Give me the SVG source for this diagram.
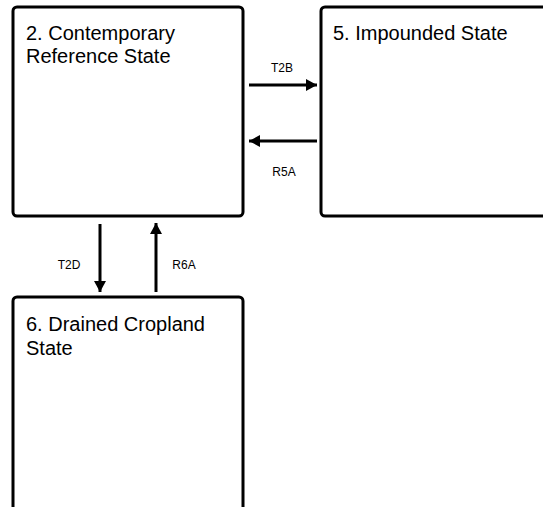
<svg xmlns="http://www.w3.org/2000/svg" width="543" height="507" viewBox="0 0 543 507">
<style>
.box{fill:#ffffff;stroke:#000000;stroke-width:3}
.title{font-family:"Liberation Sans",Arial,sans-serif;font-size:20px;fill:#000000}
.lbl{font-family:"Liberation Sans",Arial,sans-serif;font-size:12px;fill:#000000;text-anchor:middle}
.edge{stroke:#000000;stroke-width:3;fill:none;marker-end:url(#ah)}
</style>
<defs>
<marker id="ah" markerUnits="userSpaceOnUse" markerWidth="12" markerHeight="12" refX="11" refY="6" orient="auto">
<path d="M0,0 L11,6 L0,12 Z" fill="#000000"/>
</marker>
</defs>
<rect width="543" height="507" fill="#ffffff"/>
<g id="node-2">
<rect class="box" x="13" y="7" width="230" height="209" rx="4"/>
<text class="title" x="26" y="40">2. Contemporary</text>
<text class="title" x="26" y="63">Reference State</text>
</g>
<g id="node-5">
<rect class="box" x="321" y="7" width="240" height="209" rx="4"/>
<text class="title" x="333" y="40">5. Impounded State</text>
</g>
<g id="node-6">
<rect class="box" x="13" y="297" width="230" height="240" rx="4"/>
<text class="title" x="26" y="331">6. Drained Cropland</text>
<text class="title" x="26" y="355">State</text>
</g>
<g id="connectors">
<line class="edge" x1="249" y1="85" x2="317" y2="85"/>
<line class="edge" x1="317" y1="141" x2="249" y2="141"/>
<line class="edge" x1="100" y1="224" x2="100" y2="292"/>
<line class="edge" x1="156" y1="292" x2="156" y2="223"/>
<text class="lbl" x="282" y="72">T2B</text>
<text class="lbl" x="284" y="176">R5A</text>
<text class="lbl" x="69" y="269">T2D</text>
<text class="lbl" x="184" y="269">R6A</text>
</g>
</svg>
